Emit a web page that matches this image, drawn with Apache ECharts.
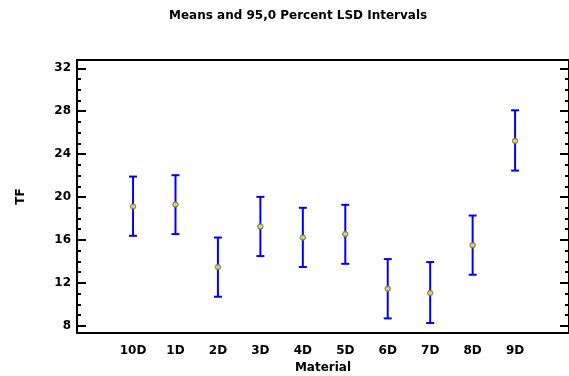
<!DOCTYPE html>
<html>
<head>
<meta charset="utf-8">
<script src="https://cdn.jsdelivr.net/npm/echarts@6/dist/echarts.min.js"></script>
<style>
  html, body { margin: 0; padding: 0; background: #fff; }
  #chart { width: 569px; height: 376px; }
</style>
</head>
<body>
<div id="chart"></div>
<script>
// Material groups and their TF means with 95,0% LSD interval bounds
const categories = ['10D', '1D', '2D', '3D', '4D', '5D', '6D', '7D', '8D', '9D'];
const means = [19.11, 19.29, 13.47, 17.25, 16.22, 16.54, 11.45, 11.05, 15.51, 25.23];
const lower = [16.38, 16.54, 10.70, 14.49, 13.47, 13.77, 8.68, 8.25, 12.75, 22.46];
const upper = [21.90, 22.03, 16.22, 20.01, 18.99, 19.27, 14.21, 13.93, 18.27, 28.08];
const yMajorTicks = [8, 12, 16, 20, 24, 28, 32];
const yMinorTicks = [];
for (let v = 8; v <= 32; v++) yMinorTicks.push(v);

const FONT = '"DejaVu Sans", "Liberation Sans", Arial, sans-serif';
const catIndex = categories.map((_, i) => i);

const yCommon = {
  type: 'value', min: 7.32, max: 32.77,
  splitLine: { show: false },
  axisLine: { show: false, onZero: false }
};

const chart = echarts.init(document.getElementById('chart'), null, { renderer: 'canvas' });
chart.setOption({
  animation: false,
  backgroundColor: '#ffffff',
  title: {
    text: 'Means and 95,0 Percent LSD Intervals',
    left: 164, top: 5,
    textStyle: { fontFamily: FONT, fontSize: 12, fontWeight: 'bold', color: '#000' }
  },
  grid: {
    left: 77, right: 0, top: 60, bottom: 43,
    outerBoundsMode: 'none',
    containLabel: false,
    show: true, borderColor: '#000', borderWidth: 2, backgroundColor: 'transparent'
  },
  xAxis: {
    type: 'value', min: -1.32, max: 10.27,
    name: 'Material', nameLocation: 'middle', nameGap: 28,
    nameTextStyle: { fontFamily: FONT, fontSize: 12, fontWeight: 'bold', color: '#000' },
    axisLine: { show: false, onZero: false },
    axisTick: { show: false },
    splitLine: { show: false },
    axisLabel: {
      customValues: catIndex,
      formatter: v => categories[Math.round(v)] || '',
      margin: 12,
      fontFamily: FONT, fontSize: 12, fontWeight: 'bold', color: '#000'
    }
  },
  yAxis: [
    Object.assign({}, yCommon, {
      position: 'left',
      name: 'TF', nameLocation: 'middle', nameGap: 50, nameRotate: 90,
      nameTextStyle: { fontFamily: FONT, fontSize: 12, fontWeight: 'bold', color: '#000' },
      axisTick: { show: true, inside: true, length: 9, customValues: yMajorTicks,
                  lineStyle: { color: '#000', width: 2 } },
      axisLabel: { customValues: yMajorTicks, margin: 6,
                   fontFamily: FONT, fontSize: 12, fontWeight: 'bold', color: '#000' }
    }),
    Object.assign({}, yCommon, {
      position: 'left',
      axisTick: { show: true, inside: true, length: 4, customValues: yMinorTicks,
                  lineStyle: { color: '#000', width: 2 } },
      axisLabel: { show: false }
    }),
    Object.assign({}, yCommon, {
      position: 'right',
      axisTick: { show: true, inside: true, length: 9, customValues: yMajorTicks,
                  lineStyle: { color: '#000', width: 2 } },
      axisLabel: { show: false }
    }),
    Object.assign({}, yCommon, {
      position: 'right',
      axisTick: { show: true, inside: true, length: 4, customValues: yMinorTicks,
                  lineStyle: { color: '#000', width: 2 } },
      axisLabel: { show: false }
    })
  ],
  series: [
    {
      type: 'custom',
      yAxisIndex: 0,
      data: catIndex.map(i => [i, lower[i], upper[i]]),
      renderItem: function (params, api) {
        const x = api.value(0);
        const top = api.coord([x, api.value(2)]);
        const bot = api.coord([x, api.value(1)]);
        const hw = 4;
        const style = { stroke: '#0000ff', lineWidth: 2 };
        return {
          type: 'group',
          children: [
            { type: 'line', shape: { x1: top[0], y1: top[1], x2: bot[0], y2: bot[1] }, style: style },
            { type: 'line', shape: { x1: top[0] - hw, y1: top[1], x2: top[0] + hw, y2: top[1] }, style: style },
            { type: 'line', shape: { x1: bot[0] - hw, y1: bot[1], x2: bot[0] + hw, y2: bot[1] }, style: style }
          ]
        };
      }
    },
    {
      type: 'scatter',
      yAxisIndex: 0,
      data: catIndex.map(i => [i, means[i]]),
      symbol: 'circle',
      symbolSize: 5,
      itemStyle: { color: '#f4f4d0', borderColor: '#7f7f00', borderWidth: 1.5 },
      z: 5
    }
  ]
});
</script>
</body>
</html>
